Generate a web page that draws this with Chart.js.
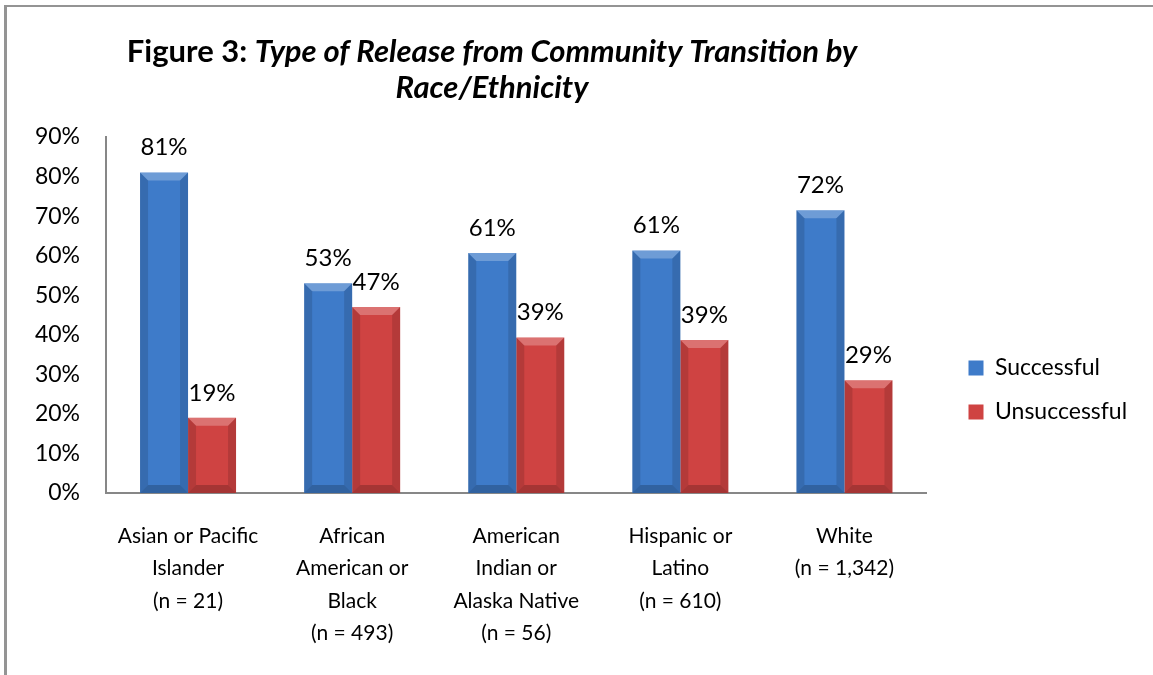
<!DOCTYPE html>
<html>
<head>
<meta charset="utf-8">
<script src="https://cdn.jsdelivr.net/npm/chart.js@4.4.1/dist/chart.umd.min.js"></script>
<style>
  html, body { margin: 0; padding: 0; background: #fff; }
  #frame { position: absolute; left: 4px; top: 5px; width: 1149px; height: 670px;
           border-left: 3px solid #949494; border-top: 2px solid #949494; box-sizing: border-box; }
  #wrap { position: absolute; left: 0; top: 0; width: 1153px; height: 675px; }
</style>
</head>
<body>
<div id="frame"></div>
<div id="wrap"><canvas id="myChart" width="1153" height="675"></canvas></div>
<script>
const FONT = 'Lato, "Open Sans", sans-serif';

const categories = [
    ['Asian or Pacific', 'Islander', '(n = 21)'],
    ['African', 'American or', 'Black', '(n = 493)'],
    ['American', 'Indian or', 'Alaska Native', '(n = 56)'],
    ['Hispanic or', 'Latino', '(n = 610)'],
    ['White', '(n = 1,342)']
];
const successful = [81, 53, 60.7, 61.3, 71.5];
const unsuccessful = [19, 47, 39.3, 38.7, 28.5];
const yTicks = [0, 10, 20, 30, 40, 50, 60, 70, 80, 90];

// title drawn by hand: "Figure 3:" is bold, the rest bold italic
const titlePlugin = {
    id: 'mixedTitle',
    afterDraw(chart) {
        const c = chart.ctx;
        const cx = 492;
        c.save();
        c.fillStyle = '#000';
        c.textBaseline = 'middle';
        const a = 'Figure 3: ';
        const b = 'Type of Release from Community Transition by';
        c.font = 'bold 31px ' + FONT;
        const wa = c.measureText(a).width;
        c.font = 'italic bold 31px ' + FONT;
        const wb = c.measureText(b).width;
        let x = cx - (wa + wb) / 2;
        c.textAlign = 'left';
        c.font = 'bold 31px ' + FONT;
        c.fillText(a, x, 52);
        c.font = 'italic bold 31px ' + FONT;
        c.fillText(b, x + wa, 52);
        c.textAlign = 'center';
        c.fillText('Race/Ethnicity', cx, 88);
        c.restore();
    }
};

// bevel look + value labels on top of each bar
const barDeco = {
    id: 'barDeco',
    afterDatasetsDraw(chart) {
        const c = chart.ctx;
        chart.data.datasets.forEach((ds, di) => {
            const meta = chart.getDatasetMeta(di);
            meta.data.forEach((bar, i) => {
                const l = bar.x - bar.width / 2, r = bar.x + bar.width / 2;
                const t = bar.y, b = bar.base;
                const bv = 8;
                c.save();
                // top bevel
                c.fillStyle = 'rgba(255,255,255,0.25)';
                c.beginPath();
                c.moveTo(l, t); c.lineTo(r, t); c.lineTo(r - bv, t + bv); c.lineTo(l + bv, t + bv);
                c.closePath(); c.fill();
                // side shading
                c.fillStyle = 'rgba(0,0,0,0.13)';
                c.beginPath();
                c.moveTo(l, t); c.lineTo(l + bv, t + bv); c.lineTo(l + bv, b - bv); c.lineTo(l, b);
                c.closePath(); c.fill();
                c.beginPath();
                c.moveTo(r, t); c.lineTo(r - bv, t + bv); c.lineTo(r - bv, b - bv); c.lineTo(r, b);
                c.closePath(); c.fill();
                // bottom bevel
                c.fillStyle = 'rgba(0,0,0,0.2)';
                c.beginPath();
                c.moveTo(l, b); c.lineTo(r, b); c.lineTo(r - bv, b - bv); c.lineTo(l + bv, b - bv);
                c.closePath(); c.fill();
                // label
                c.fillStyle = '#000';
                c.font = '24px ' + FONT;
                c.textAlign = 'center';
                c.textBaseline = 'middle';
                c.fillText(Math.round(ds.data[i]) + '%', bar.x, t - 25);
                c.restore();
            });
        });
    }
};

const ctx = document.getElementById('myChart');

new Chart(ctx, {
type: 'bar',
data: {
    labels: categories,
    datasets: [{
        label: 'Successful',
        data: successful,
        backgroundColor: '#3E7BC9',
        borderWidth: 0,
        categoryPercentage: 0.585,
        barPercentage: 1.0
    }, {
        label: 'Unsuccessful',
        data: unsuccessful,
        backgroundColor: '#CF4342',
        borderWidth: 0,
        categoryPercentage: 0.585,
        barPercentage: 1.0
    }]
},
plugins: [titlePlugin, barDeco],
options: {
    responsive: false,
    animation: false,
    layout: {
        padding: { top: 137, left: 0, right: 16, bottom: 0 }
    },
    plugins: {
        tooltip: { enabled: false },
        legend: {
            position: 'right',
            align: 'start',
            title: {
                display: true,
                text: ' ',
                padding: { top: 92, bottom: 92 }
            },
            labels: {
                boxWidth: 15,
                boxHeight: 15,
                padding: 21,
                color: '#000',
                font: { family: FONT, size: 23 }
            }
        }
    },
    scales: {
        x: {
            grid: { display: false, drawTicks: false },
            border: { display: true, color: '#878787', width: 2 },
            ticks: {
                color: '#000',
                padding: 27,
                maxRotation: 0,
                autoSkip: false,
                font: { family: FONT, size: 21, lineHeight: 1.54 }
            },
            afterFit(scale) { scale.height = 182; }
        },
        y: {
            min: 0,
            max: 90,
            afterBuildTicks(scale) { scale.ticks = yTicks.map(v => ({ value: v })); },
            grid: { display: false, drawTicks: false },
            border: { display: true, color: '#878787', width: 2 },
            ticks: {
                color: '#000',
                padding: 26,
                font: { family: FONT, size: 23 },
                callback: v => v + '%'
            },
            afterFit(scale) { scale.width = 106; }
        },
        gap: {
            position: 'right',
            display: true,
            grid: { display: false, drawTicks: false },
            border: { display: false },
            ticks: { display: false },
            afterFit(scale) { scale.width = 21; }
        }
    }
}
})
</script>
</body>
</html>
